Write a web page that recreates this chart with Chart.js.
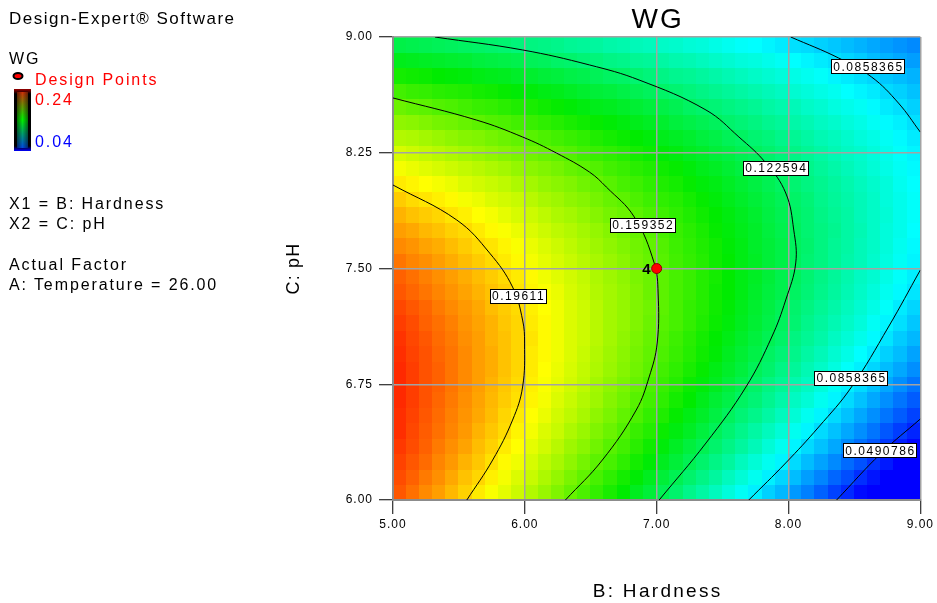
<!DOCTYPE html>
<html>
<head>
<meta charset="utf-8">
<title>WG</title>
<script src="https://cdn.jsdelivr.net/npm/chart.js@4.4.1/dist/chart.umd.min.js"></script>
<style>
  body { margin: 0; background: #fff; }
  #wrap { position: relative; width: 937px; height: 603px; }
  #wrap canvas { position: absolute; left: 0; top: 0; }
  .t { position: absolute; font-family: "Liberation Sans", Arial, sans-serif; font-size: 16px; line-height: 16px;
       letter-spacing: 1.9px; color: #000; white-space: nowrap; }
</style>
</head>
<body>
<div id="wrap">
  <canvas id="chart" width="937" height="603" style="width:937px;height:603px"></canvas>
  <div class="t" style="left:9px;top:10px;font-size:17px;line-height:17px;letter-spacing:1.5px">Design-Expert® Software</div>
  <div class="t" style="left:9px;top:51px">WG</div>
  <div class="t" style="left:35px;top:72px;color:#ff0000">Design Points</div>
  <div class="t" style="left:35px;top:92px;color:#ff0000">0.24</div>
  <div class="t" style="left:35px;top:134px;color:#0000ff">0.04</div>
  <div class="t" style="left:9px;top:196px">X1 = B: Hardness</div>
  <div class="t" style="left:9px;top:216px">X2 = C: pH</div>
  <div class="t" style="left:9px;top:257px">Actual Factor</div>
  <div class="t" style="left:9px;top:277px">A: Temperature = 26.00</div>
</div>
<script>
// axis ticks
const hardnessTicks = [5, 6, 7, 8, 9];
const phTicks = [6, 6.75, 7.5, 8.25, 9];

// WG (x 1000) at cell centres: B: Hardness across, C: pH up
const hardnessCells = [5.05, 5.15, 5.25, 5.35, 5.45, 5.55, 5.65, 5.75, 5.85, 5.95,
  6.05, 6.15, 6.25, 6.35, 6.45, 6.55, 6.65, 6.75, 6.85, 6.95,
  7.05, 7.15, 7.25, 7.35, 7.45, 7.55, 7.65, 7.75, 7.85, 7.95,
  8.05, 8.15, 8.25, 8.35, 8.45, 8.55, 8.65, 8.75, 8.85, 8.95];
const phCells = [6.05, 6.15, 6.25, 6.35, 6.45, 6.55, 6.65, 6.75, 6.85, 6.95,
  7.05, 7.15, 7.25, 7.35, 7.45, 7.55, 7.65, 7.75, 7.85, 7.95,
  8.05, 8.15, 8.25, 8.35, 8.45, 8.55, 8.65, 8.75, 8.85, 8.95];
const wgValues = [
  [223,218,213,209,204,199,194,189,185,180,175,170,165,160,155,150,145,140,134,129,124,119,113,108,103,97,92,87,81,76,70,65,59,53,48,42,36,31,25,19],
  [225,221,216,212,207,202,198,193,188,183,179,174,169,164,159,154,149,144,139,134,129,124,119,114,109,103,98,93,87,82,77,71,66,60,55,49,44,38,32,27],
  [227,223,219,214,210,205,201,196,191,187,182,177,173,168,163,158,154,149,144,139,134,129,124,119,114,109,103,98,93,88,83,77,72,67,61,56,50,45,39,34],
  [229,225,221,216,212,208,203,199,194,190,185,181,176,171,167,162,157,153,148,143,138,133,128,124,119,114,109,104,98,93,88,83,78,73,67,62,57,51,46,41],
  [231,226,222,218,214,210,205,201,197,192,188,183,179,174,170,165,161,156,151,147,142,137,133,128,123,118,113,108,103,98,93,88,83,78,73,68,63,57,52,47],
  [231,227,223,219,215,211,207,203,198,194,190,186,181,177,173,168,164,159,155,150,146,141,136,132,127,122,117,113,108,103,98,93,88,83,78,73,68,63,58,53],
  [232,228,224,220,216,212,208,204,200,196,192,188,183,179,175,171,166,162,157,153,149,144,140,135,130,126,121,117,112,107,102,98,93,88,83,78,73,68,63,58],
  [232,228,224,221,217,213,209,205,201,197,193,189,185,181,177,172,168,164,160,155,151,147,142,138,134,129,125,120,115,111,106,102,97,92,87,83,78,73,68,63],
  [232,228,224,221,217,213,209,206,202,198,194,190,186,182,178,174,170,166,162,158,153,149,145,141,136,132,128,123,119,114,110,105,101,96,91,87,82,77,73,68],
  [231,227,224,220,217,213,209,206,202,198,194,191,187,183,179,175,171,167,163,159,155,151,147,143,139,134,130,126,121,117,113,108,104,99,95,90,86,81,77,72],
  [230,226,223,219,216,212,209,205,202,198,195,191,187,183,180,176,172,168,164,160,156,152,148,144,140,136,132,128,124,120,115,111,107,102,98,94,89,85,80,76],
  [228,225,221,218,215,211,208,205,201,198,194,191,187,183,180,176,172,169,165,161,157,154,150,146,142,138,134,130,126,122,118,113,109,105,101,97,92,88,84,79],
  [226,223,220,216,213,210,207,203,200,197,193,190,187,183,180,176,172,169,165,162,158,154,150,147,143,139,135,131,127,123,119,115,111,107,103,99,95,91,86,82],
  [223,220,217,214,211,208,205,202,199,195,192,189,186,182,179,175,172,169,165,161,158,154,151,147,143,140,136,132,128,125,121,117,113,109,105,101,97,93,89,85],
  [221,218,215,212,209,206,203,200,197,194,191,187,184,181,178,174,171,168,164,161,158,154,151,147,144,140,136,133,129,125,122,118,114,110,106,102,99,95,91,87],
  [217,214,212,209,206,203,200,197,194,191,188,185,182,179,176,173,170,167,163,160,157,153,150,147,143,140,136,133,129,126,122,118,115,111,107,104,100,96,92,88],
  [213,211,208,206,203,200,197,195,192,189,186,183,180,177,174,171,168,165,162,159,156,152,149,146,143,139,136,132,129,126,122,119,115,111,108,104,101,97,93,89],
  [209,207,204,202,199,197,194,191,189,186,183,180,177,175,172,169,166,163,160,157,154,151,148,145,141,138,135,132,128,125,122,118,115,112,108,105,101,97,94,90],
  [205,202,200,198,195,193,190,188,185,182,180,177,174,172,169,166,163,161,158,155,152,149,146,143,140,137,134,131,127,124,121,118,114,111,108,104,101,98,94,91],
  [200,197,195,193,191,188,186,183,181,179,176,173,171,168,166,163,160,158,155,152,149,147,144,141,138,135,132,129,126,123,120,117,113,110,107,104,101,97,94,91],
  [194,192,190,188,186,183,181,179,177,174,172,169,167,165,162,160,157,154,152,149,146,144,141,138,136,133,130,127,124,121,118,115,112,109,106,103,100,97,93,90],
  [188,186,184,182,180,178,176,174,172,169,167,165,163,160,158,156,153,151,148,146,143,141,138,135,133,130,127,125,122,119,116,113,110,107,104,101,98,95,92,89],
  [182,180,178,176,174,172,170,168,166,164,162,160,158,156,153,151,149,147,144,142,139,137,134,132,129,127,124,122,119,116,114,111,108,105,102,100,97,94,91,88],
  [175,174,172,170,168,166,165,163,161,159,157,155,153,151,149,146,144,142,140,138,135,133,131,128,126,123,121,118,116,113,111,108,105,103,100,97,95,92,89,86],
  [168,167,165,163,162,160,158,156,155,153,151,149,147,145,143,141,139,137,135,133,131,128,126,124,122,119,117,115,112,110,107,105,102,100,97,95,92,89,87,84],
  [161,159,158,156,155,153,151,150,148,146,145,143,141,139,137,135,134,132,130,128,126,124,121,119,117,115,113,111,108,106,104,101,99,96,94,92,89,86,84,81],
  [153,151,150,148,147,146,144,143,141,139,138,136,135,133,131,129,128,126,124,122,120,118,116,114,112,110,108,106,104,102,99,97,95,93,90,88,86,83,81,78],
  [144,143,142,140,139,138,136,135,134,132,131,129,128,126,125,123,121,120,118,116,114,112,111,109,107,105,103,101,99,97,95,93,91,88,86,84,82,79,77,75],
  [135,134,133,132,131,130,128,127,126,125,123,122,120,119,117,116,114,113,111,110,108,106,105,103,101,99,97,96,94,92,90,88,86,84,82,80,77,75,73,71],
  [126,125,124,123,122,121,120,119,118,116,115,114,113,111,110,109,107,106,104,103,101,100,98,97,95,93,91,90,88,86,84,83,81,79,77,75,73,71,69,67]
];

// contour lines
const c196B = [5.000, 5.484, 5.733, 5.907, 5.983, 5.998, 5.983, 5.907, 5.756, 5.560];
const c196C = [8.041, 7.814, 7.600, 7.380, 7.166, 7.017, 6.732, 6.518, 6.259, 6.000];
const c159B = [5.000, 5.633, 5.983, 6.240, 6.490, 6.618, 6.830, 6.981, 7.011, 7.004, 6.943, 6.845, 6.588, 6.308];
const c159C = [8.605, 8.462, 8.352, 8.248, 8.125, 8.028, 7.834, 7.536, 7.341, 7.017, 6.797, 6.583, 6.259, 6.000];
const c123B = [5.318, 5.983, 6.490, 6.868, 7.374, 7.624, 7.828, 7.979, 8.040, 8.055, 7.979, 7.873, 7.677, 7.374, 7.019];
const c123C = [9.000, 8.916, 8.819, 8.721, 8.527, 8.352, 8.184, 7.989, 7.749, 7.536, 7.296, 7.056, 6.732, 6.369, 6.000];
const c086aB = [8.017, 8.380, 8.630, 8.834, 9.000];
const c086aC = [9.000, 8.864, 8.741, 8.572, 8.384];
const c086bB = [9.000, 8.758, 8.478, 8.229, 7.979, 7.699];
const c086bC = [7.490, 7.121, 6.732, 6.473, 6.240, 6.000];
const c049B = [9.000, 8.705, 8.365];
const c049C = [6.525, 6.305, 6.000];

const labelText = ['0.19611', '0.159352', '0.122594', '0.0858365', '0.0858365', '0.0490786'];
const labelB = [5.945, 6.890, 7.900, 8.599, 8.471, 8.690];
const labelC = [7.325, 7.782, 8.151, 8.809, 6.790, 6.321];

// design point (centre point, 4 runs)
const designB = [7.0];
const designC = [7.5];
const designRuns = ['4'];

const FONT = '"Liberation Sans", Arial, sans-serif';
const colorStops = [
  [0.04, [0, 0, 255]],
  [0.09, [0, 255, 255]],
  [0.14, [0, 235, 0]],
  [0.19, [255, 255, 0]],
  [0.24, [255, 0, 0]]
];

function wgColor(perMille) {
  const v = perMille / 1000;
  if (v <= colorStops[0][0]) return 'rgb(' + colorStops[0][1].join(',') + ')';
  for (let i = 1; i < colorStops.length; i++) {
    const [v1, c1] = colorStops[i];
    const [v0, c0] = colorStops[i - 1];
    if (v <= v1) {
      const f = (v - v0) / (v1 - v0);
      return 'rgb(' + c0.map((c, k) => Math.round(c + (c1[k] - c) * f)).join(',') + ')';
    }
  }
  return 'rgb(' + colorStops[colorStops.length - 1][1].join(',') + ')';
}

function pairs(bs, cs) {
  return bs.map((b, i) => ({ x: b, y: cs[i] }));
}

function contour(bs, cs) {
  return {
    data: pairs(bs, cs),
    showLine: true,
    borderColor: '#000',
    borderWidth: 1,
    pointRadius: 0,
    tension: 0.4,
    fill: false
  };
}

function cellEdges(centres, min, max) {
  return centres.map((c, i) => [
    i === 0 ? min : (centres[i - 1] + c) / 2,
    i === centres.length - 1 ? max : (c + centres[i + 1]) / 2
  ]);
}

const heatmapPlugin = {
  id: 'heatmap',
  beforeLayout(chart) {
    chart.ctx.letterSpacing = '1px';
  },
  beforeDraw(chart) {
    const { ctx, scales: { x, y } } = chart;
    ctx.save();
    ctx.fillStyle = '#fff';
    ctx.fillRect(0, 0, chart.width, chart.height);
    const bEdges = cellEdges(hardnessCells, x.min, x.max);
    const cEdges = cellEdges(phCells, y.min, y.max);
    cEdges.forEach(([c0, c1], j) => {
      const top = Math.floor(y.getPixelForValue(c1));
      const bot = Math.ceil(y.getPixelForValue(c0));
      bEdges.forEach(([b0, b1], i) => {
        const left = Math.floor(x.getPixelForValue(b0));
        const right = Math.ceil(x.getPixelForValue(b1));
        ctx.fillStyle = wgColor(wgValues[j][i]);
        ctx.fillRect(left, top, right - left, bot - top);
      });
    });
    ctx.restore();
    ctx.letterSpacing = '1px';
  },
  afterDatasetsDraw(chart) {
    const { ctx, scales: { x, y } } = chart;
    ctx.save();
    // contour labels
    ctx.font = '12px ' + FONT;
    ctx.letterSpacing = '1.5px';
    ctx.textAlign = 'center';
    ctx.textBaseline = 'middle';
    labelText.forEach((t, i) => {
      const px = x.getPixelForValue(labelB[i]);
      const py = y.getPixelForValue(labelC[i]);
      const w = ctx.measureText(t).width + 3;
      const h = 14;
      ctx.fillStyle = '#fff';
      ctx.fillRect(Math.round(px - w / 2), Math.round(py - h / 2), Math.round(w), h);
      ctx.strokeStyle = '#000';
      ctx.lineWidth = 1;
      ctx.strokeRect(Math.round(px - w / 2) + 0.5, Math.round(py - h / 2) + 0.5, Math.round(w), h);
      ctx.fillStyle = '#000';
      ctx.fillText(t, px + 1, py + 1);
    });
    // run count beside the design point
    ctx.font = 'bold 15px ' + FONT;
    ctx.letterSpacing = '0px';
    ctx.textAlign = 'right';
    ctx.textBaseline = 'alphabetic';
    designRuns.forEach((t, i) => {
      ctx.fillText(t, x.getPixelForValue(designB[i]) - 6, y.getPixelForValue(designC[i]) + 5.5);
    });
    ctx.restore();
  },
  afterDraw(chart) {
    const { ctx, chartArea } = chart;
    const cx = (chartArea.left + chartArea.right) / 2;
    ctx.save();
    ctx.fillStyle = '#000';
    ctx.textAlign = 'center';
    ctx.textBaseline = 'alphabetic';
    ctx.font = '28px ' + FONT;
    ctx.letterSpacing = '2px';
    ctx.fillText('WG', cx + 1, 28);
    ctx.font = '19px ' + FONT;
    ctx.letterSpacing = '2.3px';
    ctx.fillText('B: Hardness', cx + 1, 597);
    ctx.save();
    ctx.translate(299, (chartArea.top + chartArea.bottom) / 2);
    ctx.rotate(-Math.PI / 2);
    ctx.font = '18px ' + FONT;
    ctx.letterSpacing = '1.2px';
    ctx.fillText('C: pH', 0, 0);
    ctx.restore();

    // colour bar of the legend
    const g0 = ctx.createLinearGradient(0, 89, 0, 151);
    g0.addColorStop(0, '#9a0000');
    g0.addColorStop(0.08, '#000');
    g0.addColorStop(0.92, '#000');
    g0.addColorStop(1, '#0000ff');
    ctx.fillStyle = g0;
    ctx.fillRect(14, 89, 17, 62);
    const g1 = ctx.createLinearGradient(0, 92, 0, 148);
    g1.addColorStop(0, '#d03008');
    g1.addColorStop(0.5, '#00f000');
    g1.addColorStop(1, '#0048e0');
    ctx.fillStyle = g1;
    ctx.fillRect(17, 92, 11, 56);
    const g2 = ctx.createLinearGradient(17, 0, 28, 0);
    g2.addColorStop(0, 'rgba(0,0,0,0.5)');
    g2.addColorStop(0.5, 'rgba(0,0,0,0)');
    g2.addColorStop(1, 'rgba(0,0,0,0.5)');
    ctx.fillStyle = g2;
    ctx.fillRect(17, 92, 11, 56);

    // design point symbol of the legend
    ctx.beginPath();
    ctx.ellipse(18, 76, 4.5, 3, 0, 0, Math.PI * 2);
    ctx.fillStyle = '#ff0000';
    ctx.fill();
    ctx.lineWidth = 2;
    ctx.strokeStyle = '#000';
    ctx.stroke();
    ctx.restore();
  }
};

const axisGrid = {
  color: '#a3a3a3',
  lineWidth: 1.5,
  tickColor: '#000',
  tickLength: 14,
  tickWidth: 1
};

new Chart(document.getElementById('chart'), {
  type: 'scatter',
  data: {
    datasets: [
      {
        data: pairs(designB, designC),
        pointRadius: 5,
        backgroundColor: '#ff0000',
        borderColor: '#900000',
        borderWidth: 1
      },
      contour(c196B, c196C),
      contour(c159B, c159C),
      contour(c123B, c123C),
      contour(c086aB, c086aC),
      contour(c086bB, c086bC),
      contour(c049B, c049C)
    ]
  },
  options: {
    responsive: false,
    animation: false,
    layout: { padding: { left: 282, right: 15, top: 37, bottom: 2 } },
    plugins: {
      legend: { display: false },
      tooltip: { enabled: false }
    },
    scales: {
      x: {
        type: 'linear',
        min: 5,
        max: 9,
        afterBuildTicks(scale) { scale.ticks = hardnessTicks.map(v => ({ value: v })); },
        afterFit(scale) { scale.height = 101; },
        ticks: {
          color: '#000',
          font: { family: FONT, size: 12 },
          padding: 3,
          maxRotation: 0,
          callback: v => Number(v).toFixed(2)
        },
        grid: axisGrid,
        border: { color: '#8c8c8c', width: 2 }
      },
      y: {
        type: 'linear',
        min: 6,
        max: 9,
        afterBuildTicks(scale) { scale.ticks = phTicks.map(v => ({ value: v })); },
        afterFit(scale) { scale.width = 111; },
        ticks: {
          color: '#000',
          font: { family: FONT, size: 12 },
          padding: 6,
          callback: v => Number(v).toFixed(2)
        },
        grid: axisGrid,
        border: { color: '#8c8c8c', width: 2 }
      }
    }
  },
  plugins: [heatmapPlugin]
});
</script>
</body>
</html>
